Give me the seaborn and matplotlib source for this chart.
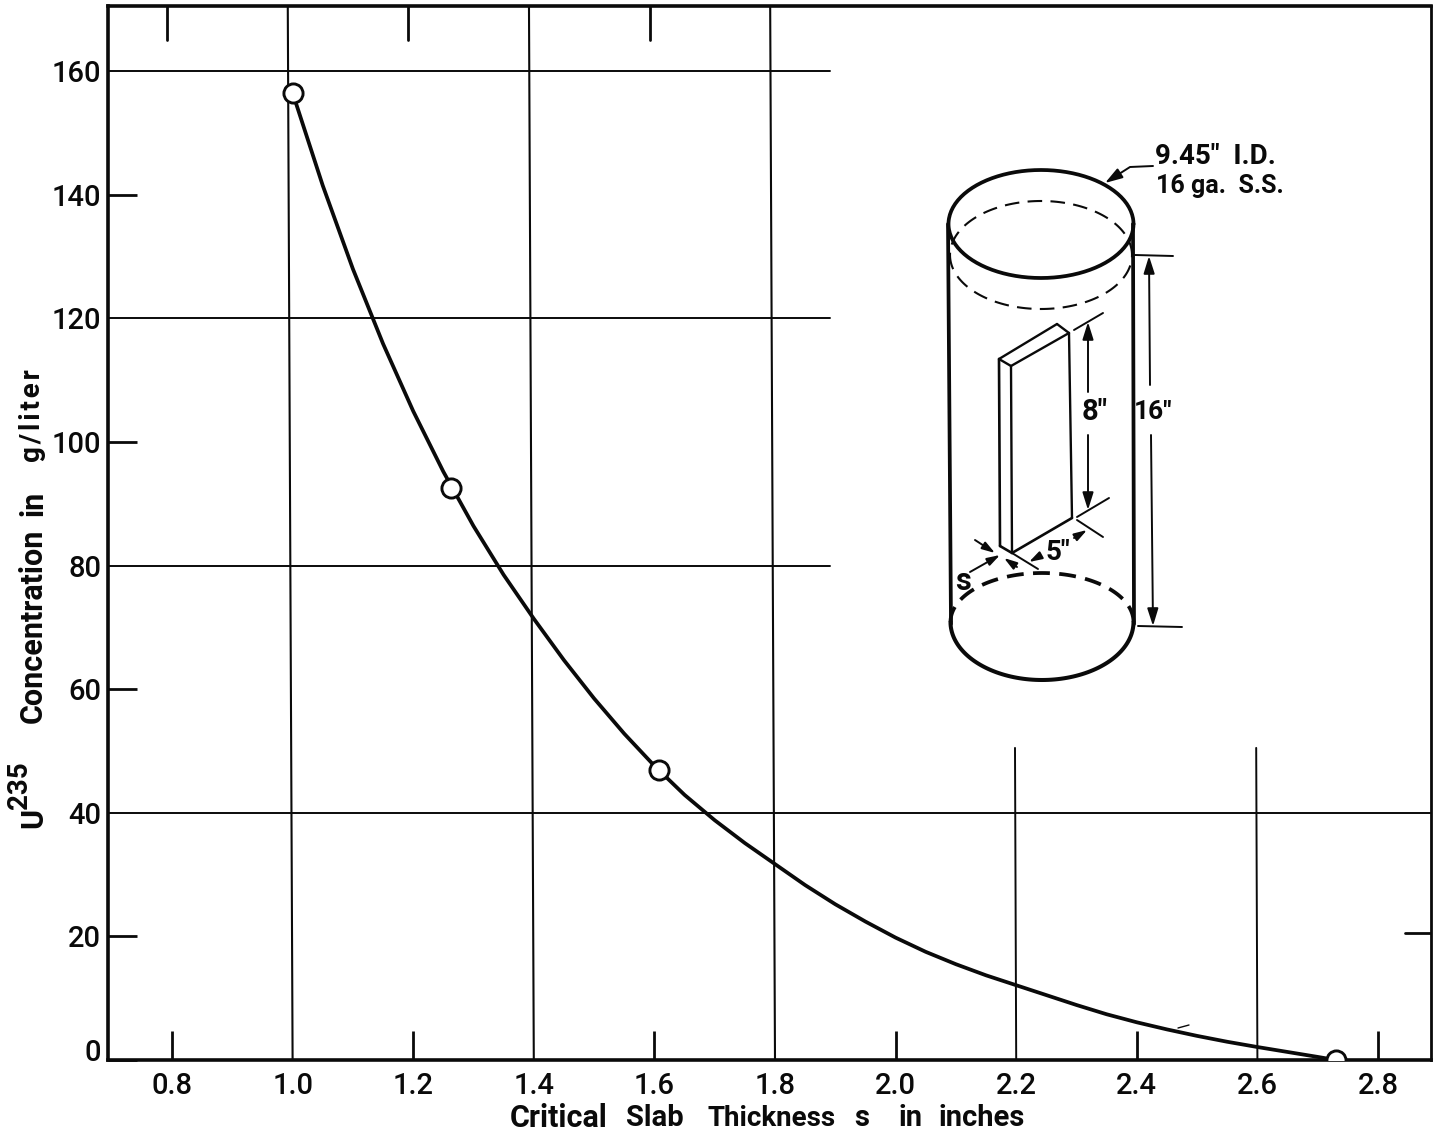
import numpy as np
import pandas as pd
import matplotlib
matplotlib.use("Agg")
import matplotlib.pyplot as plt
from matplotlib.transforms import ScaledTranslation
import seaborn as sns

# ---- data ----
curve_x = [1.0, 1.05, 1.1, 1.15, 1.2, 1.25, 1.3, 1.35, 1.4, 1.45, 1.5, 1.55, 1.6, 1.65, 1.7, 1.75, 1.8,
           1.85, 1.9, 1.95, 2.0, 2.05, 2.1, 2.15, 2.2, 2.25, 2.3, 2.35, 2.4, 2.45, 2.5, 2.55, 2.6, 2.65, 2.7, 2.73]
curve_y = [156.5, 141.5, 128.0, 115.9, 105.0, 95.2, 86.4, 78.5, 71.4, 64.7, 58.5, 52.8, 47.6, 42.9, 38.8,
           35.1, 31.7, 28.3, 25.2, 22.4, 19.8, 17.5, 15.5, 13.7, 12.1, 10.5, 8.9, 7.4, 6.1, 4.95, 3.9, 2.95,
           2.1, 1.3, 0.5, 0.0]
point_x = [1.0, 1.262, 1.607, 2.73]
point_y = [156.5, 92.6, 46.9, 0.0]
x_ticks = [0.8, 1.0, 1.2, 1.4, 1.6, 1.8, 2.0, 2.2, 2.4, 2.6, 2.8]
y_ticks = [0, 20, 40, 60, 80, 100, 120, 140, 160]
x_labels = ["0.8", "1.0", "1.2", "1.4", "1.6", "1.8", "2.0", "2.2", "2.4", "2.6", "2.8"]
y_labels = ["0", "20", "40", "60", "80", "100", "120", "140", "160"]
full_verticals = [1.0, 1.4, 1.8]
lower_verticals = [2.2, 2.6]
top_ticks = [0.8, 1.2, 1.6]
partial_horizontals = [160, 120, 80]
full_horizontals = [40]

W, H = 1435, 1138
sns.set_theme(style="white")
plt.rcParams["font.family"] = ["Roboto", "DejaVu Sans"]
plt.rcParams["mathtext.default"] = "regular"
INK = "#0a0a0a"

fig = plt.figure(figsize=(W / 100, H / 100), dpi=100, facecolor="white")
L, R, T, B = 108, 1431, 6, 1060
ax = fig.add_axes([L / W, 1 - B / H, (R - L) / W, (B - T) / H])
ax.set_xlim(0.8 - 64 / 603, 0.8 - 64 / 603 + (R - L) / 603)
ax.set_ylim(0, (B - T) / 6.18)

curve = pd.DataFrame({"s": curve_x, "c": curve_y})
points = pd.DataFrame({"s": point_x, "c": point_y})
sns.lineplot(data=curve, x="s", y="c", ax=ax, color=INK, lw=2.7, sort=False,
             errorbar=None, estimator=None, zorder=3, solid_joinstyle="round")
sns.scatterplot(data=points, x="s", y="c", ax=ax, s=190, color="white",
                edgecolor=INK, linewidth=2.1, zorder=4)

# the scan leans slightly: lines are 4-5 px further left at the top than at the bottom
lean = 0.008
for v in full_verticals:
    ax.plot([v - lean, v], [ax.get_ylim()[1], 0], color=INK, lw=1.5, zorder=1)
for v in lower_verticals:
    ax.plot([v - 0.002, v], [50.5, 0], color=INK, lw=1.4, zorder=1)
for v in top_ticks:
    ax.plot([v - lean, v - lean], [ax.get_ylim()[1], 165.0], color=INK, lw=2.0, zorder=1)
xstop = 0.8 - 64 / 603 + (830 - L) / 603
for h in partial_horizontals:
    ax.plot([ax.get_xlim()[0], xstop], [h, h], color=INK, lw=1.4, zorder=1)
for h in full_horizontals:
    ax.plot(ax.get_xlim(), [h, h], color=INK, lw=1.4, zorder=1)
ax.plot([ax.get_xlim()[1] - 26 / 603, ax.get_xlim()[1]], [20.5, 20.5], color=INK, lw=2.0, zorder=1)

ax.set_xticks(x_ticks, x_labels)
ax.set_yticks(y_ticks, y_labels)
ax.tick_params(axis="x", direction="in", length=21, width=2.0, color=INK, pad=9,
               labelsize=21, labelcolor=INK, bottom=True)
ax.tick_params(axis="y", direction="in", length=21, width=2.0, color=INK, pad=5,
               labelsize=21, labelcolor=INK, left=True)
for tick, v in zip(ax.xaxis.get_major_ticks(), x_ticks):
    if v in full_verticals + lower_verticals:
        tick.tick1line.set_visible(False)
for tick, v in zip(ax.yaxis.get_major_ticks(), y_ticks):
    if v in partial_horizontals + full_horizontals:
        tick.tick1line.set_visible(False)
for lab in ax.get_xticklabels() + ax.get_yticklabels():
    lab.set_fontweight("medium")
ylab0 = ax.get_yticklabels()[0]
ylab0.set_transform(ylab0.get_transform() + ScaledTranslation(0, 10 / 100, fig.dpi_scale_trans))

for s in ax.spines.values():
    s.set_visible(True)
    s.set_color(INK)
    s.set_linewidth(2.6)
ax.spines["right"].set_linewidth(2.0)
ax.set_xlabel("")
ax.set_ylabel("")

# overlay in reference pixels for axis titles and the inset diagram
d = fig.add_axes([0, 0, 1, 1], facecolor="none")
d.set_xlim(0, W)
d.set_ylim(H, 0)
d.axis("off")


def ell(cx, cy, w, h, a0=0, a1=360, **kw):
    t = np.radians(np.arange(a0, a1 + 1, 2))
    d.plot(cx + w / 2 * np.cos(t), cy - h / 2 * np.sin(t), color=INK, solid_capstyle="round", **kw)


def seg(x0, y0, x1, y1, lw=1.4):
    d.plot([x0, x1], [y0, y1], color=INK, lw=lw, solid_capstyle="round")


def arrow(x0, y0, x1, y1, lw=1.4, ms=15):
    d.annotate("", xy=(x1, y1), xytext=(x0, y0),
               arrowprops=dict(arrowstyle="-|>,head_width=0.22,head_length=0.7", color=INK, lw=lw,
                               shrinkA=0, shrinkB=0, mutation_scale=ms))


def spaced(word):
    return "\u200a".join(word)


BOLD = dict(ha="center", va="center", fontweight="bold", color=INK)
for word, cx, size in [("Critical", 559, 22), ("Slab", 655, 21), ("Thickness", 772, 20), ("s", 862, 21),
                       ("in", 910, 21), ("inches", 982, 21)]:
    d.text(cx, 1118, word, fontsize=size, **BOLD)
for word, cy, size in [("Concentration", 626, 22), ("in", 503, 22), (spaced("g/liter"), 416, 20)]:
    d.text(33, cy, word, fontsize=size, rotation=90, **BOLD)
d.text(33, 818, "U", fontsize=22, rotation=90, **BOLD)
d.text(19, 785, "235", fontsize=20, rotation=90, **BOLD)

# cylinder
ell(1041, 224, 185, 108, lw=2.7)
ell(1041, 255, 182, 108, 0, 180, lw=1.5, dashes=(7, 4))
ell(1041, 255, 182, 108, 180, 360, lw=1.5, dashes=(7, 4))
ell(1042, 622, 183, 116, 180, 360, lw=2.9)
ell(1042, 622, 183, 98, 0, 180, lw=2.7, dashes=(4.5, 2.5))
seg(948, 224, 951, 624, 2.7)
seg(1133, 224, 1134, 624, 2.7)

# slab
seg(999, 359, 1057, 324, 1.7)
seg(1057, 324, 1069, 333, 1.7)
seg(999, 359, 1011, 366, 1.7)
seg(1011, 366, 1069, 333, 1.7)
seg(999, 359, 1000, 546, 1.9)
seg(1011, 366, 1012, 553, 1.7)
seg(1069, 333, 1072, 518, 1.7)
seg(1000, 546, 1012, 553, 1.9)
seg(1012, 553, 1072, 518, 1.9)

# dimensions
seg(1074, 330, 1103, 313)
arrow(1088, 392, 1088, 322)
arrow(1088, 435, 1088, 510)
seg(1077, 517, 1109, 498)
seg(1135, 255, 1173, 256)
arrow(1150, 385, 1149, 256)
arrow(1151, 435, 1153, 626)
seg(1138, 626, 1182, 627)
seg(1012, 553, 1038, 569)
seg(1077, 520, 1103, 537)
arrow(1074, 538, 1087, 530, ms=11)
arrow(1038, 557, 1029, 562, ms=11)
arrow(975, 540, 995, 553, ms=11)
arrow(970, 572, 1000, 555, ms=11)
arrow(1017, 567, 1004, 558, ms=11)
d.plot([1153, 1130, 1119], [166, 167, 174], color=INK, lw=1.4)
arrow(1119, 174, 1105, 183)

d.text(1095, 412, '8"', fontsize=21, **BOLD)
d.text(1153, 412, '16"', fontsize=19, **BOLD)
d.text(1058, 552, '5"', fontsize=20, **BOLD)
d.text(963, 581, "s", fontsize=22, **BOLD)
d.text(1155, 156, '9.45"  I.D.', ha="left", va="center", fontsize=20, fontweight="bold", color=INK)
d.text(1156, 186, "16 ga.  S.S.", ha="left", va="center", fontsize=18, fontweight="bold", color=INK)

seg(1178, 1028, 1189, 1025, 1.0)

fig.savefig("out.png", dpi=100, facecolor="white")
